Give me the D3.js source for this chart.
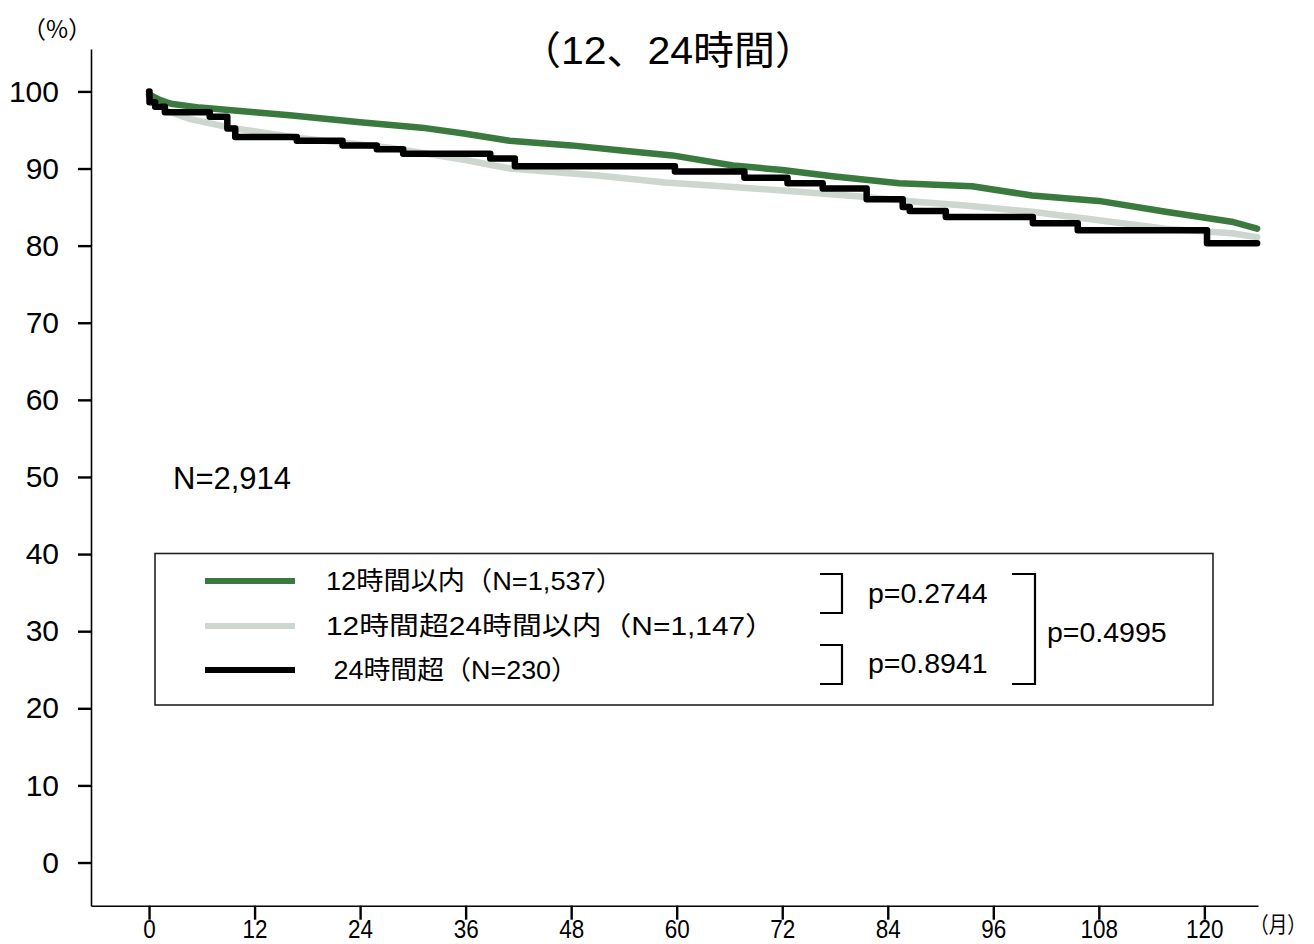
<!DOCTYPE html>
<html>
<head>
<meta charset="utf-8">
<script src="https://cdn.jsdelivr.net/npm/d3@7"></script>
<style>
body { margin: 0; background: #fff; }
text { font-family: "Liberation Sans", Arial, "Noto Sans CJK JP", sans-serif; fill: #000; }
.cjk { font-family: "Noto Sans CJK JP", sans-serif; }
</style>
</head>
<body>
<div id="chart"></div>
<script>

// Tick labels
var xTicks = [0, 12, 24, 36, 48, 60, 72, 84, 96, 108, 120],
    yTicks = [0, 10, 20, 30, 40, 50, 60, 70, 80, 90, 100];

// Series (month, survival %)
var within12 = [[0, 99.6], [1.2, 98.9], [2.5, 98.4], [5.8, 97.9], [12, 97.3], [16, 96.9],
    [24, 96.0], [31, 95.3], [36, 94.5], [41, 93.6], [48, 93.0], [54, 92.3], [59.5, 91.7],
    [66.4, 90.4], [72, 89.8], [77.7, 89.0], [85.3, 88.1], [93.6, 87.7], [100.4, 86.5],
    [108, 85.8], [115.6, 84.4], [123.1, 83.1], [126, 82.2]];

var over12to24 = [[0, 99.3], [2, 97.5], [4.7, 96.4], [9.2, 95.3], [16.8, 94.0], [27.4, 92.7],
    [36, 91.1], [41, 90.0], [51, 89.1], [58.7, 88.2], [66.4, 87.6], [73.9, 87.0], [81.5, 86.3],
    [87.2, 85.7], [92.8, 85.2], [100.4, 84.4], [108, 83.3], [115.6, 82.2], [123.1, 81.6],
    [126, 81.1]];

var over24 = [[0, 100], [0.05, 98.6], [0.7, 98.0], [1.8, 97.3], [6.9, 96.7], [8.9, 95.2],
    [9.8, 94.1], [16.8, 93.6], [22, 93.0], [25.9, 92.5], [28.9, 91.9], [38.8, 91.3],
    [41.6, 90.3], [59.8, 89.6], [67.7, 88.8], [72.6, 88.1], [76.6, 87.4], [81.6, 86.0],
    [85.7, 85.0], [86.5, 84.5], [90.6, 83.7], [100.5, 82.9], [105.6, 82.0], [120.3, 80.3],
    [126, 80.3]];

var seriesLabels = ["12時間以内（N=1,537）", "12時間超24時間以内（N=1,147）", " 24時間超（N=230）"],
    seriesColors = ["#3a7a3e", "#cdd6cf", "#000000"];

var pLabels = ["p=0.2744", "p=0.8941", "p=0.4995"];

var width = 1314, height = 944;

var svg = d3.select("#chart").append("svg")
    .attr("width", width)
    .attr("height", height);

var x = d3.scaleLinear()
    .domain([-6.6, 126.1])
    .range([91, 1258]);

var y = d3.scaleLinear()
    .domain([-5.6, 105.5])
    .range([905.7, 49]);

// Axes
var xAxis = d3.axisBottom(x)
    .tickValues(xTicks)
    .tickSize(14)
    .tickSizeOuter(0);
var gx = svg.append("g")
    .attr("transform", "translate(0," + y(-5.6) + ")")
    .call(xAxis);
gx.select(".domain").attr("stroke-width", 1.6);
gx.selectAll(".tick line").attr("stroke-width", 2.4);
gx.selectAll(".tick text")
    .attr("y", 32)
    .attr("dy", null)
    .attr("font-size", 25)
    .attr("textLength", function(d) { return String(d).length * 12.5; })
    .attr("lengthAdjust", "spacingAndGlyphs");

var yAxis = d3.axisLeft(y)
    .tickValues(yTicks)
    .tickSize(13)
    .tickPadding(19)
    .tickSizeOuter(0);
var gy = svg.append("g")
    .attr("transform", "translate(" + x(-6.6) + ",0)")
    .call(yAxis);
gy.select(".domain").attr("stroke-width", 1.6);
gy.selectAll(".tick line").attr("stroke-width", 2.4);
gy.selectAll(".tick text")
    .attr("font-size", 30);

svg.selectAll(".tick text").attr("font-family", null);

// Axis units
svg.append("text")
    .attr("class", "cjk")
    .attr("x", 57)
    .attr("y", 38)
    .attr("text-anchor", "middle")
    .attr("font-size", 24)
    .text("（%）");

svg.append("text")
    .attr("class", "cjk")
    .attr("x", 1250)
    .attr("y", 932)
    .attr("font-size", 22)
    .attr("textLength", 56)
    .attr("lengthAdjust", "spacingAndGlyphs")
    .text("（月）");

// Title
svg.append("text")
    .attr("x", 668)
    .attr("y", 64)
    .attr("text-anchor", "middle")
    .attr("font-size", 39)
    .attr("textLength", 296)
    .attr("lengthAdjust", "spacingAndGlyphs")
    .text("（12、24時間）");

// Curves
var line = d3.line()
    .x(function(d) { return x(d[0]); })
    .y(function(d) { return y(d[1]); });

var series = [
    { data: over12to24, color: seriesColors[1], curve: d3.curveLinear },
    { data: within12, color: seriesColors[0], curve: d3.curveLinear },
    { data: over24, color: seriesColors[2], curve: d3.curveStepAfter }
];

svg.selectAll("path.km")
    .data(series)
  .enter().append("path")
    .attr("class", "km")
    .attr("fill", "none")
    .attr("stroke", function(d) { return d.color; })
    .attr("stroke-width", 6.5)
    .attr("stroke-linejoin", "round")
    .attr("stroke-linecap", "round")
    .attr("d", function(d) { return line.curve(d.curve)(d.data); });

// Total N
svg.append("text")
    .attr("x", 173)
    .attr("y", 489)
    .attr("font-size", 31)
    .text("N=2,914");

// Legend
svg.append("rect")
    .attr("x", 155)
    .attr("y", 553.5)
    .attr("width", 1058)
    .attr("height", 151.5)
    .attr("fill", "#fff")
    .attr("stroke", "#222")
    .attr("stroke-width", 1.6);

var rowY = [581, 626, 670],
    textLen = [297, 449, 252];

var legend = svg.selectAll("g.legend")
    .data(seriesLabels)
  .enter().append("g")
    .attr("class", "legend")
    .attr("transform", function(d, i) { return "translate(0," + rowY[i] + ")"; });

legend.append("line")
    .attr("x1", 205)
    .attr("x2", 295)
    .attr("stroke", function(d, i) { return seriesColors[i]; })
    .attr("stroke-width", 6);

legend.append("text")
    .attr("x", 326)
    .attr("y", 9)
    .attr("font-size", 26)
    .attr("xml:space", "preserve")
    .attr("textLength", function(d, i) { return textLen[i]; })
    .attr("lengthAdjust", "spacingAndGlyphs")
    .text(function(d) { return d; });

// Brackets
var brackets = ["M820,574H842V613H820", "M820,645H842V684H820", "M1012,574H1035V684H1012"];
svg.selectAll("path.bracket")
    .data(brackets)
  .enter().append("path")
    .attr("class", "bracket")
    .attr("fill", "none")
    .attr("stroke", "#000")
    .attr("stroke-width", 2.2)
    .attr("d", function(d) { return d; });

var pPos = [[868, 603], [868, 673], [1047, 642]];
svg.selectAll("text.pval")
    .data(pLabels)
  .enter().append("text")
    .attr("class", "pval")
    .attr("x", function(d, i) { return pPos[i][0]; })
    .attr("y", function(d, i) { return pPos[i][1]; })
    .attr("font-size", 28.5)
    .text(function(d) { return d; });

</script>
</body>
</html>
